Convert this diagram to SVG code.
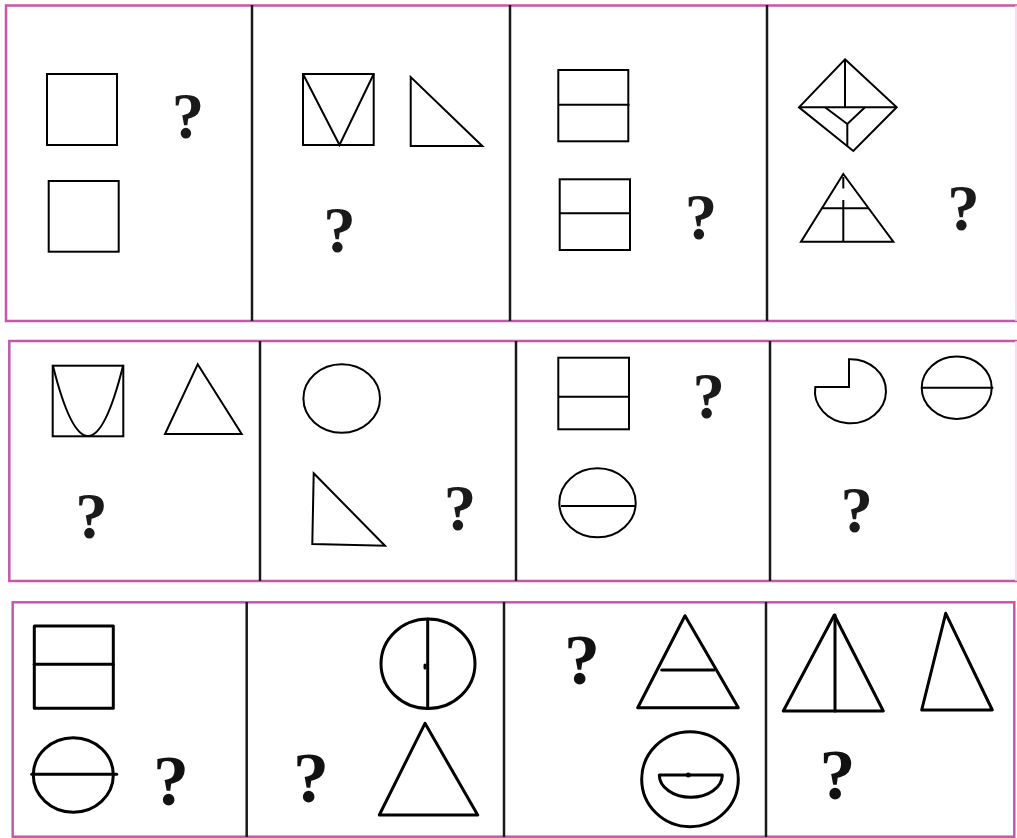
<svg xmlns="http://www.w3.org/2000/svg" width="1017" height="838" viewBox="0 0 1017 838">
<style>
.frame{fill:none;stroke:#c25aa8;stroke-width:2.5}
.div{stroke:#1a1a1a;stroke-width:2.5}
.s{fill:none;stroke:#000;stroke-width:2;stroke-linejoin:miter}
.h{fill:none;stroke:#000;stroke-width:3;stroke-linejoin:round;stroke-linecap:round}
.q{font-family:"Liberation Serif","Times New Roman",serif;font-weight:bold;font-size:65px;fill:#1a1a1a;text-anchor:middle}
.q3{font-family:"Liberation Serif","Times New Roman",serif;font-weight:bold;font-size:72px;fill:#111;text-anchor:middle}
</style>
<rect width="1017" height="838" fill="#fff"/>

<!-- Row 1 -->
<g id="row1">
<path class="frame" d="M1017 5.5 H6 V321 H1017"/>
<line x1="1016" y1="5.5" x2="1016" y2="321" stroke="#f2d6ec" stroke-width="1.5"/>
<line class="div" x1="252" y1="5" x2="252" y2="321"/>
<line class="div" x1="510" y1="5" x2="510" y2="321"/>
<line class="div" x1="767" y1="5" x2="767" y2="321"/>
</g>
<g id="r1p1">
<rect class="s" x="47" y="74" width="70" height="71"/>
<rect class="s" x="48.7" y="181" width="70" height="70.7"/>
<text class="q" x="188" y="138">?</text>
</g>
<g id="r1p2">
<rect class="s" x="303" y="74" width="70.7" height="71"/>
<path class="s" d="M303 74 L339.5 145 L373.7 74"/>
<path class="s" d="M410.7 77 L410.7 146 L482.3 146 Z"/>
<text class="q" x="339.5" y="252">?</text>
</g>
<g id="r1p3">
<rect class="s" x="558.3" y="70" width="70" height="71.3"/>
<line class="s" x1="558.3" y1="104.7" x2="629.5" y2="104.7"/>
<rect class="s" x="559.7" y="179.3" width="70.3" height="70.7"/>
<line class="s" x1="559.7" y1="213.3" x2="630" y2="213.3"/>
<text class="q" x="701" y="239">?</text>
</g>
<g id="r1p4">
<path class="s" d="M845 59.3 L896.7 107.3 L853.3 151 L799 107.3 Z"/>
<line class="s" x1="845" y1="59.3" x2="845" y2="107.3"/>
<line class="s" x1="799" y1="107.3" x2="896.7" y2="107.3"/>
<path class="s" d="M825 107.3 L847.3 124 L865 107.3"/>
<line class="s" x1="847.3" y1="124" x2="847.3" y2="146"/>
<path class="s" d="M843.3 174 L893.3 241.7 L801 241.7 Z"/>
<line class="s" x1="821.7" y1="208.3" x2="868.3" y2="208.3"/>
<line class="s" x1="843.3" y1="177" x2="843.3" y2="188.5"/>
<line class="s" x1="843.3" y1="200" x2="843.3" y2="241.7"/>
<text class="q" x="963.5" y="230">?</text>
</g>

<!-- Row 2 -->
<g id="row2">
<path class="frame" d="M1017 341 H9.3 V581 H1017"/>
<line x1="1016" y1="341" x2="1016" y2="581" stroke="#f2d6ec" stroke-width="1.5"/>
<line class="div" x1="260" y1="341" x2="260" y2="581"/>
<line class="div" x1="516" y1="341" x2="516" y2="581"/>
<line class="div" x1="770" y1="341" x2="770" y2="581"/>
</g>
<g id="r2p1">
<rect class="s" x="52.7" y="365.7" width="70.6" height="70.6"/>
<path class="s" d="M53 366 Q88 506 123 366"/>
<path class="s" d="M197.7 364.3 L241.7 434 L165 434 Z"/>
<text class="q" x="91.5" y="538">?</text>
</g>
<g id="r2p2">
<ellipse class="s" cx="341.7" cy="398.5" rx="38.3" ry="34.2"/>
<path class="s" d="M313.7 473.3 L385 545.7 L312.3 544 Z"/>
<text class="q" x="460" y="530">?</text>
</g>
<g id="r2p3">
<rect class="s" x="558.3" y="357.7" width="70.7" height="71.6"/>
<line class="s" x1="558.3" y1="396.7" x2="629" y2="396.7"/>
<ellipse class="s" cx="597.5" cy="502.8" rx="38.2" ry="34.5"/>
<line class="s" x1="561" y1="506" x2="635" y2="506"/>
<text class="q" x="708.8" y="418">?</text>
</g>
<g id="r2p4">
<path class="s" d="M849 387 L849 359.3 A35.5 32 0 1 1 815.3 387 Z"/>
<ellipse class="s" cx="956.7" cy="387.8" rx="35" ry="31.2"/>
<line class="s" x1="921.7" y1="387.7" x2="993.3" y2="387.7"/>
<text class="q" x="856.7" y="532">?</text>
</g>

<!-- Row 3 -->
<g id="row3">
<rect class="frame" x="12.7" y="602.3" width="1001.6" height="234.4"/>
<line class="div" x1="246.7" y1="602" x2="246.7" y2="837"/>
<line class="div" x1="504" y1="602" x2="504" y2="837"/>
<line class="div" x1="766" y1="602" x2="766" y2="837"/>
</g>
<g id="r3p1">
<rect class="h" x="34.3" y="626" width="79" height="82.3"/>
<line class="h" x1="34.3" y1="664.3" x2="113.3" y2="664.3"/>
<ellipse class="h" cx="73.3" cy="775" rx="40" ry="37.3"/>
<line class="h" x1="31.7" y1="774.3" x2="116.7" y2="774.3"/>
<text class="q3" x="171" y="805">?</text>
</g>
<g id="r3p2">
<ellipse class="h" cx="428" cy="663.7" rx="47" ry="44.7"/>
<line class="h" x1="427.7" y1="619" x2="427.7" y2="708.4"/>
<line class="h" x1="425" y1="665" x2="425" y2="668"/>
<path class="h" d="M425 723.3 L477.7 815 L379.3 815 Z"/>
<text class="q3" x="311" y="802">?</text>
</g>
<g id="r3p3">
<path class="h" d="M685 615.7 L738.3 707.7 L637.7 707.7 Z"/>
<line class="h" x1="661.7" y1="670" x2="714" y2="670"/>
<ellipse class="h" cx="690" cy="779.2" rx="48.3" ry="47.5"/>
<path class="h" d="M659.3 775 L722.3 775 A31.5 22.3 0 0 1 659.3 775 Z"/>
<circle cx="688.3" cy="775" r="2.5" fill="#000"/>
<text class="q3" x="582" y="684">?</text>
</g>
<g id="r3p4">
<path class="h" d="M834.3 615 L883.3 711 L783.3 711 Z"/>
<line class="h" x1="835" y1="615" x2="835" y2="711"/>
<path class="h" d="M945.7 613.3 L992.3 710 L921.7 710 Z"/>
<text class="q3" x="837.5" y="799">?</text>
</g>
</svg>
